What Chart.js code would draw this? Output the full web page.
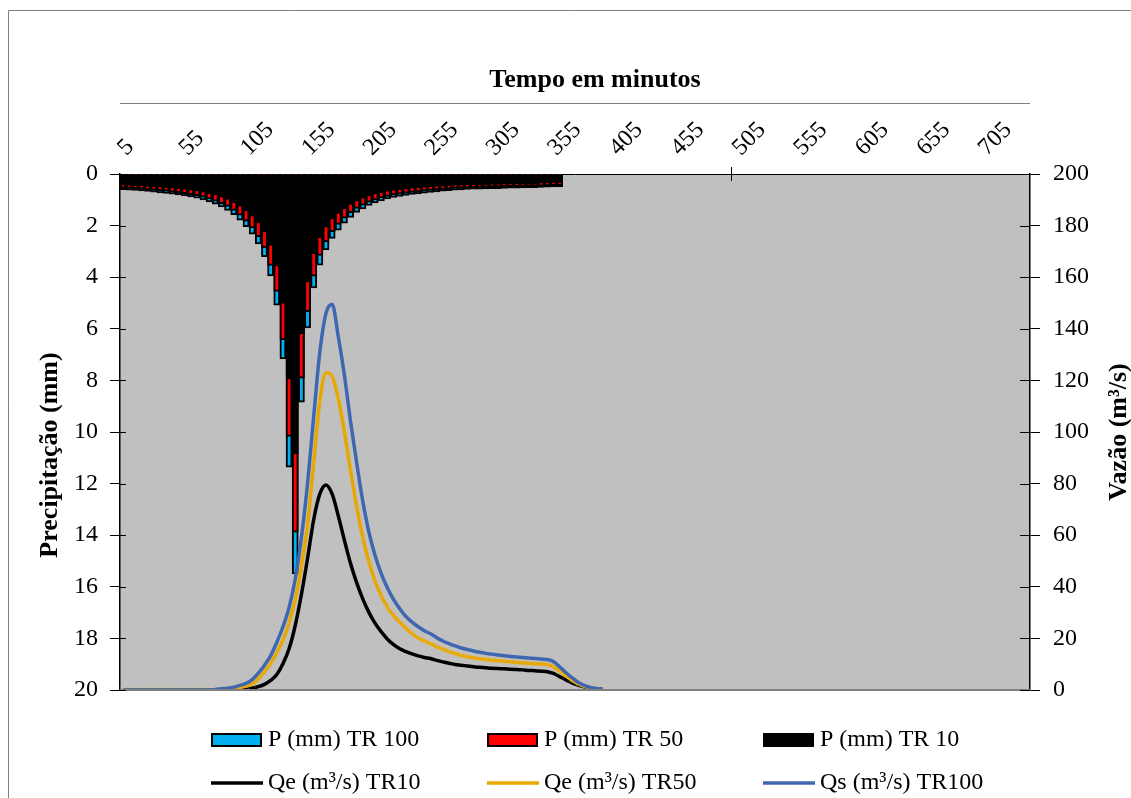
<!DOCTYPE html>
<html><head><meta charset="utf-8">
<script src="https://cdn.jsdelivr.net/npm/chart.js@4.4.1/dist/chart.umd.min.js"></script>
<style>html,body{margin:0;padding:0;background:#fff;overflow:hidden}#wrap{width:1131px;height:798px;position:relative}</style>
</head><body><div id="wrap"><canvas id="c" width="1131" height="798"></canvas></div>
<script>
const minutes = [5,10,15,20,25,30,35,40,45,50,55,60,65,70,75,80,85,90,95,100,105,110,115,120,125,130,135,140,145,150,155,160,165,170,175,180,185,190,195,200,205,210,215,220,225,230,235,240,245,250,255,260,265,270,275,280,285,290,295,300,305,310,315,320,325,330,335,340,345,350,355,360,365,370,375,380,385,390,395,400,405,410,415,420,425,430,435,440,445,450,455,460,465,470,475,480,485,490,495,500,505,510,515,520,525,530,535,540,545,550,555,560,565,570,575,580,585,590,595,600,605,610,615,620,625,630,635,640,645,650,655,660,665,670,675,680,685,690,695,700,705,710,715,720,725,730,735,740];
const timeTickLabels = [5,55,105,155,205,255,305,355,405,455,505,555,605,655,705];

const pTR100 = [0.61,0.63,0.64,0.66,0.68,0.70,0.73,0.75,0.78,0.81,
0.85,0.89,0.94,1.00,1.08,1.17,1.28,1.41,1.58,1.79,
2.04,2.33,2.71,3.20,3.95,5.08,7.17,11.36,15.50,8.84,
5.97,4.42,3.53,2.94,2.50,2.18,1.91,1.68,1.49,1.35,
1.22,1.12,1.04,0.97,0.91,0.87,0.83,0.79,0.77,0.74,
0.71,0.69,0.67,0.65,0.63,0.62,0.60,0.59,0.585,0.58,
0.57,0.565,0.56,0.55,0.545,0.54,0.53,0.525,0.52,0.51,
0.505,0.50];
const pTR50 = [0.55,0.56,0.57,0.59,0.61,0.63,0.65,0.67,0.70,0.72,
0.76,0.80,0.84,0.90,0.97,1.05,1.15,1.26,1.41,1.60,
1.83,2.09,2.43,2.86,3.54,4.55,6.42,10.17,13.88,7.91,
5.34,3.96,3.16,2.63,2.24,1.95,1.71,1.50,1.33,1.21,
1.09,1.00,0.93,0.87,0.81,0.78,0.74,0.71,0.69,0.66,
0.64,0.62,0.60,0.58,0.56,0.55,0.54,0.53,0.52,0.52,
0.51,0.51,0.50,0.49,0.49,0.48,0.47,0.47,0.47,0.46,
0.45,0.45];
const pTR10 = [0.43,0.44,0.45,0.46,0.48,0.49,0.51,0.53,0.55,0.57,
0.60,0.62,0.66,0.70,0.76,0.82,0.90,0.99,1.11,1.25,
1.43,1.63,1.90,2.24,2.77,3.56,5.02,7.95,10.85,6.19,
4.18,3.09,2.47,2.06,1.75,1.53,1.34,1.18,1.04,0.95,
0.85,0.78,0.73,0.68,0.64,0.61,0.58,0.55,0.54,0.52,
0.50,0.48,0.47,0.46,0.44,0.43,0.42,0.41,0.41,0.41,
0.40,0.40,0.39,0.39,0.38,0.38,0.37,0.37,0.36,0.36,
0.35,0.35];

const qTR10 = [0,0,0,0,0,0,0,0,0,0,
0,0,0,0,0,0,0,0,0.1,0.2,
0.4,0.7,1.3,2.2,3.7,6.0,10.2,16,25,37,
51,66,76,79.5,76,67.5,58,49,41.5,35.2,
30,25.8,22.5,19.7,17.6,16.0,14.9,14.0,13.2,12.6,
12.2,11.5,10.9,10.4,9.9,9.6,9.3,9.0,8.8,8.6,
8.4,8.3,8.2,8.0,7.9,7.8,7.6,7.5,7.3,7.1,
6.4,5.2,3.9,2.8,1.9,1.2,0.7,0.4,0.2];
const qTR50 = [0,0,0,0,0,0,0,0,0,0,
0,0,0,0,0,0,0.1,0.3,0.6,1.0,
1.5,2.3,4.4,7.0,10.3,14.5,19.3,26,35,48,
64,88,112,123,121.5,113,100,85,71,59,
49.5,42,36.5,32,28.8,26.3,24.0,21.8,20.2,19.0,
18.0,16.8,15.8,14.9,14.1,13.4,12.9,12.5,12.1,11.8,
11.5,11.3,11.1,10.9,10.7,10.5,10.4,10.2,10.1,9.9,
9.0,7.3,5.5,3.8,2.4,1.4,0.8,0.4,0.2];
const qTR100 = [0,0,0,0,0,0,0,0,0,0,
0,0,0,0,0,0.2,0.5,0.7,1.1,1.8,
2.6,4.0,6.5,9.6,13.3,18.5,24.5,32,43,59,
80,106,131,146,149.5,137,122,104,88,73,
61,52,45,39.5,35,31.5,28.5,26.3,24.5,23.0,
21.8,20.3,19.0,18.0,17.1,16.3,15.7,15.1,14.6,14.2,
13.9,13.6,13.3,13.0,12.8,12.6,12.4,12.2,12.0,11.8,
11.0,9.0,6.8,4.8,3.0,1.8,1.0,0.6,0.4];

const xTitle = 'Tempo em minutos';
const yTitle = 'Precipitação (mm)';
const y2Title = 'Vazão (m³/s)';

Chart.defaults.font.family = '"Liberation Serif", "Times New Roman", serif';
Chart.defaults.color = '#000';

const decor = {
  id: 'decor',
  beforeDraw(chart) {
    const {ctx, chartArea: a, width, height} = chart;
    ctx.save();
    ctx.fillStyle = '#fff'; ctx.fillRect(0, 0, width, height);
    ctx.fillStyle = '#C0C0C0'; ctx.fillRect(a.left, a.top, a.right - a.left, a.bottom - a.top);
    ctx.strokeStyle = '#808080'; ctx.lineWidth = 1;
    ctx.beginPath(); ctx.moveTo(8.5, height + 5); ctx.lineTo(8.5, 10.5); ctx.lineTo(width + 5, 10.5); ctx.stroke();
    ctx.restore();
  },
  afterDraw(chart) {
    const {ctx, chartArea: a} = chart;
    const ys = chart.scales.y, y2 = chart.scales.y2;
    ctx.save();
    ctx.fillStyle = '#808080'; ctx.fillRect(a.left, a.bottom - 1, a.right - a.left, 2);
    ctx.strokeStyle = '#000'; ctx.lineWidth = 1;
    ys.ticks.forEach(t => { const p = Math.round(ys.getPixelForValue(t.value)) + 0.5; ctx.beginPath(); ctx.moveTo(a.left, p); ctx.lineTo(a.left + 6, p); ctx.stroke(); });
    y2.ticks.forEach(t => { const p = Math.round(y2.getPixelForValue(t.value)) + 0.5; ctx.beginPath(); ctx.moveTo(a.right - 10, p); ctx.lineTo(a.right, p); ctx.stroke(); });
    ctx.strokeStyle = '#808080';
    ctx.beginPath(); ctx.moveTo(a.left, a.top - 70.5); ctx.lineTo(a.right, a.top - 70.5); ctx.stroke();
    ctx.strokeStyle = '#000';
    ctx.beginPath(); ctx.moveTo(a.left + 611.5, a.top - 7); ctx.lineTo(a.left + 611.5, a.top + 7); ctx.stroke();
    // titles
    ctx.fillStyle = '#000'; ctx.textAlign = 'center'; ctx.textBaseline = 'alphabetic';
    ctx.font = 'bold 26px "Liberation Serif", serif';
    ctx.fillText(xTitle, 595, 87);
    ctx.save(); ctx.translate(57, 455); ctx.rotate(-Math.PI / 2); ctx.fillText(yTitle, 0, 0); ctx.restore();
    ctx.save(); ctx.translate(1126, 432); ctx.rotate(-Math.PI / 2); ctx.fillText(y2Title, 0, 0); ctx.restore();
    // legend
    const cols = [211, 487, 763], rows = [740, 783];
    ctx.font = '24px "Liberation Serif", serif'; ctx.textAlign = 'left'; ctx.textBaseline = 'middle';
    chart.data.datasets.forEach((ds, i) => {
      const x = cols[i % 3], y = rows[Math.floor(i / 3)];
      if (ds.type === 'bar') {
        ctx.fillStyle = ds.backgroundColor; ctx.fillRect(x, y - 7, 51, 14);
        ctx.strokeStyle = '#000'; ctx.lineWidth = 2; ctx.strokeRect(x + 1, y - 6, 49, 12);
      } else {
        ctx.strokeStyle = ds.borderColor; ctx.lineWidth = 3.5; ctx.lineCap = 'butt';
        ctx.beginPath(); ctx.moveTo(x, y); ctx.lineTo(x + 52, y); ctx.stroke();
      }
      ctx.fillStyle = '#000'; ctx.fillText(ds.label, x + 57, y);
    });
    ctx.restore();
  }
};

const barCommon = {type: 'bar', borderColor: '#000', borderWidth: 2, barPercentage: 1, categoryPercentage: 1, grouped: false, yAxisID: 'y', borderSkipped: 'start'};
const lineCommon = {type: 'line', yAxisID: 'y2', borderWidth: 3.5, pointRadius: 0, fill: false, cubicInterpolationMode: 'monotone'};

new Chart(document.getElementById('c'), {
  type: 'bar',
  data: {
    labels: minutes,
    datasets: [
      Object.assign({}, barCommon, {label: 'P (mm) TR 100', data: pTR100, backgroundColor: '#00B0F0', order: 3}),
      Object.assign({}, barCommon, {label: 'P (mm) TR 50', data: pTR50, backgroundColor: '#FF0000', order: 2}),
      Object.assign({}, barCommon, {label: 'P (mm) TR 10', data: pTR10, backgroundColor: '#000000', order: 1}),
      Object.assign({}, lineCommon, {label: 'Qe (m³/s) TR10', data: qTR10, borderColor: '#000000', order: -1}),
      Object.assign({}, lineCommon, {label: 'Qe (m³/s) TR50', data: qTR50, borderColor: '#E6A800', order: -2,
        pointRadius: 5, pointStyle: 'crossRot', pointBorderColor: 'rgba(235,190,90,0.35)', pointBackgroundColor: 'rgba(0,0,0,0)', pointBorderWidth: 1}),
      Object.assign({}, lineCommon, {label: 'Qs (m³/s) TR100', data: qTR100, borderColor: '#3F67B0', order: -3})
    ]
  },
  options: {
    responsive: false, animation: false, devicePixelRatio: 1,
    layout: {padding: {top: 0, left: 0, right: 0, bottom: 108}},
    plugins: {legend: {display: false}, tooltip: {enabled: false}},
    scales: {
      x: {
        type: 'category', position: 'top', offset: true,
        grid: {display: false, drawTicks: false},
        border: {display: true, color: '#000', width: 1},
        ticks: {autoSkip: false, minRotation: 45, maxRotation: 45, padding: 12, labelOffset: 19, color: '#000', font: {size: 24},
          callback: function (v, i) { return timeTickLabels.includes(minutes[i]) ? String(minutes[i]) : null; }},
        afterFit: s => { s.height = 174; }
      },
      y: {
        position: 'left', reverse: true, min: 0, max: 20,
        ticks: {stepSize: 2, padding: 12, color: '#000', font: {size: 24}},
        grid: {drawOnChartArea: false, drawTicks: true, tickLength: 10, color: '#000'},
        border: {color: '#000', width: 1.5},
        afterFit: s => { s.width = 120; }
      },
      y2: {
        position: 'right', min: 0, max: 200,
        ticks: {stepSize: 20, padding: 13, color: '#000', font: {size: 24}},
        grid: {drawOnChartArea: false, drawTicks: true, tickLength: 10, color: '#000'},
        border: {color: '#000', width: 1.5},
        afterFit: s => { s.width = 101; }
      }
    }
  },
  plugins: [decor]
});
</script></body></html>
